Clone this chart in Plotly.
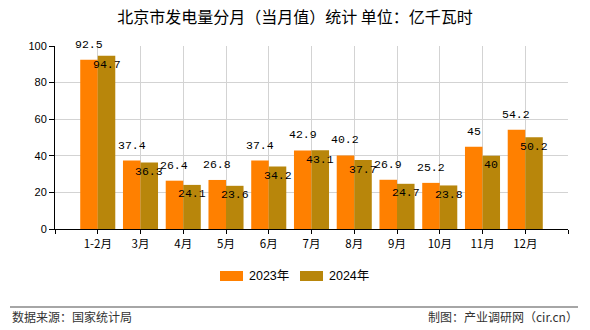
import plotly.graph_objects as go

months = ["1-2月", "3月", "4月", "5月", "6月", "7月", "8月", "9月", "10月", "11月", "12月"]
v2023 = [92.5, 37.4, 26.4, 26.8, 37.4, 42.9, 40.2, 26.9, 25.2, 45, 54.2]
v2024 = [94.7, 36.3, 24.1, 23.6, 34.2, 43.1, 37.7, 24.7, 23.8, 40, 50.2]
series_names = ["2023年", "2024年"]
colors = ["#FF8000", "#B8860B"]

title = "北京市发电量分月（当月值）统计 单位：亿千瓦时"
source = "数据来源：国家统计局"
credit = "制图：产业调研网（cir.cn）"

idx = list(range(len(months)))
BARGAP = 0.18
half = (1 - BARGAP) / 4  # offset of each bar centre from category centre

PL, PR, PT, PB = 55, 568, 46, 229
W, H = PR - PL, PB - PT


def px_x(px):
    return (px - PL) / W


def px_y(py):
    return (PB - py) / H


fig = go.Figure()
for name, vals, col in zip(series_names, [v2023, v2024], colors):
    fig.add_trace(go.Bar(x=idx, y=vals, name=name, showlegend=False,
                         marker=dict(color=col, line=dict(width=0))))

lab_font = dict(family="Liberation Mono, DejaVu Sans Mono", size=11.5, color="#000")
ann = []
for i, (a, b) in enumerate(zip(v2023, v2024)):
    ann.append(dict(x=i - half, y=a, text=f"{a:g}", showarrow=False, xanchor="center",
                    yanchor="bottom", yshift=7, font=lab_font))
    ann.append(dict(x=i + half, y=b, text=f"{b:g}", showarrow=False, xanchor="center",
                    yanchor="middle", yshift=-9, font=lab_font))

foot_font = dict(family="Noto Sans CJK SC", size=12, color="#333")
ann.append(dict(xref="paper", yref="paper", x=px_x(10), y=px_y(316), text=source,
                showarrow=False, xanchor="left", yanchor="middle", font=foot_font))
ann.append(dict(xref="paper", yref="paper", x=px_x(580), y=px_y(316), text=credit,
                showarrow=False, xanchor="right", yanchor="middle", font=foot_font))

# custom legend (wide rectangles like the reference)
shapes = [dict(type="line", xref="paper", yref="paper", x0=px_x(10), x1=px_x(578),
               y0=px_y(307), y1=px_y(307), line=dict(color="#888", width=1.5))]
leg_pos = [(220, 243, 247), (300, 323, 327)]
for (x0, x1, tx), name, col in zip(leg_pos, series_names, colors):
    shapes.append(dict(type="rect", xref="paper", yref="paper", x0=px_x(x0), x1=px_x(x1),
                       y0=px_y(281), y1=px_y(271), fillcolor=col, line=dict(width=0)))
    ann.append(dict(xref="paper", yref="paper", x=px_x(tx), y=px_y(276), text=name, showarrow=False,
                    xanchor="left", yanchor="middle",
                    font=dict(family="Liberation Sans, Noto Sans CJK SC", size=12.5, color="#000")))

fig.update_layout(
    width=590, height=330,
    margin=dict(l=PL, r=590 - PR, t=PT, b=330 - PB),
    paper_bgcolor="white", plot_bgcolor="white",
    barmode="group", bargap=BARGAP, bargroupgap=0,
    showlegend=False,
    title=dict(text=title, x=0.5, xref="container", xanchor="center", y=1 - 17 / 330, yref="container",
               yanchor="middle", font=dict(family="Noto Sans CJK SC", size=16, color="#000")),
    font=dict(family="Noto Sans CJK SC", size=11, color="#000"),
    xaxis=dict(range=[-1, len(months)], tickvals=[-1] + idx + [len(months)], ticktext=[""] + months + [""],
               showgrid=True, gridcolor="#d3d3d3", gridwidth=1, showline=True, linecolor="#000", linewidth=1,
               ticks="outside", ticklen=4, tickcolor="#000", zeroline=False,
               tickfont=dict(family="Noto Sans CJK SC", size=11.5)),
    yaxis=dict(range=[0, 100], dtick=20, showgrid=True, gridcolor="#d3d3d3", gridwidth=1,
               showline=True, linecolor="#000", linewidth=1, ticks="outside", ticklen=5, tickcolor="#000",
               zeroline=False, tickfont=dict(family="Liberation Sans", size=11)),
    annotations=ann,
    shapes=shapes,
)

fig.write_html("out.html")
